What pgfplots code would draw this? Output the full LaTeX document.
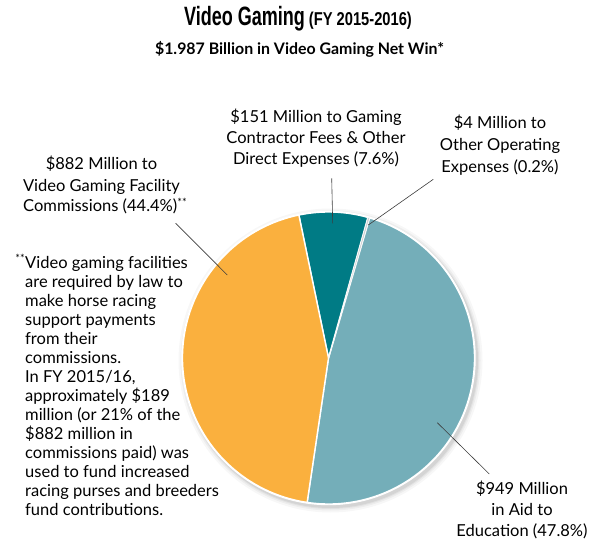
\documentclass[border=0pt]{standalone}
\usepackage{pgfplots}
\pgfplotsset{compat=1.18}
\usepackage{pgfplotstable}
\usepackage{fontspec}
\setmainfont{Lato}
\newfontfamily\titleA[FakeStretch=0.68]{Liberation Sans}
\newfontfamily\titleB[FakeStretch=0.79]{Liberation Sans}
\definecolor{cOrange}{RGB}{250,176,62}
\definecolor{cDark}{RGB}{0,123,133}
\definecolor{cLight}{RGB}{116,174,185}
\definecolor{cGray}{RGB}{205,208,210}
\definecolor{cLine}{RGB}{60,60,60}
\pgfplotstableread{
share value
Education 949
Operating 4
Contractor 151
Facility 882
}\piedata
\newcommand{\lf}{\fontsize{16.5bp}{21bp}\selectfont}
\newcommand{\dstar}{\raisebox{5.5bp}{\fontsize{11bp}{11bp}\selectfont **}}
\begin{document}
\pgfplotstablegetelem{0}{value}\of\piedata\edef\vA{\pgfplotsretval}%
\pgfplotstablegetelem{1}{value}\of\piedata\edef\vB{\pgfplotsretval}%
\pgfplotstablegetelem{2}{value}\of\piedata\edef\vC{\pgfplotsretval}%
\pgfplotstablegetelem{3}{value}\of\piedata\edef\vD{\pgfplotsretval}%
\pgfmathsetmacro\tot{\vA+\vB+\vC+\vD}%
\pgfmathsetmacro\sA{261.6}%
\pgfmathsetmacro\eA{\sA+\vA/\tot*360}%
\pgfmathsetmacro\eB{\eA+\vB/\tot*360}%
\pgfmathsetmacro\eC{\eB+\vC/\tot*360}%
\pgfmathsetmacro\eD{\eC+\vD/\tot*360}%
\begin{tikzpicture}[x=1bp,y=1bp]
\path[use as bounding box] (0,0) rectangle (597,549);
% shadow
\foreach \r/\o in {152/0.03,150/0.04,148.5/0.05,147.5/0.06}{
  \fill[black,opacity=\o] (330.5,188.5) circle[radius=\r bp];
}
\begin{axis}[hide axis, x=1bp, y=1bp, xmin=-150, xmax=150, ymin=-150, ymax=150,
  at={(328.5,191)}, anchor=center, clip=false]
\fill[white] (axis cs:0,0) circle[radius=147.2bp];
\fill[cLight, draw=white, line width=1.4bp, line join=round] (axis cs:0,0) -- (axis cs:{146*cos(\sA)},{146*sin(\sA)}) arc[start angle=\sA, end angle=\eA, radius=146bp] -- cycle;
\fill[cDark, draw=white, line width=1.4bp, line join=round] (axis cs:0,0) -- (axis cs:{146*cos(\eB)},{146*sin(\eB)}) arc[start angle=\eB, end angle=\eC, radius=146bp] -- cycle;
\fill[cOrange, draw=white, line width=1.4bp, line join=round] (axis cs:0,0) -- (axis cs:{146*cos(\eC)},{146*sin(\eC)}) arc[start angle=\eC, end angle=\eD, radius=146bp] -- cycle;
\fill[cGray, draw=white, line width=0.4bp, line join=round] (axis cs:0,0) -- (axis cs:{146*cos(\eA)},{146*sin(\eA)}) arc[start angle=\eA, end angle=\eB, radius=146bp] -- cycle;
\end{axis}
% leader lines
\draw[cLine, line width=0.6bp] (175.7,325.7) -- (227.3,274);
\draw[cLine, line width=0.6bp] (331.7,370.7) -- (332.7,325.7);
\draw[cLine, line width=0.6bp] (433.3,369.7) -- (368.3,324);
\draw[cLine, line width=0.6bp] (437.3,126.3) -- (489.3,75);
% title
\node[anchor=base, inner sep=0] at (298,523) {{\titleA\bfseries\fontsize{26.5bp}{26.5bp}\selectfont Video Gaming}\hspace{4bp}{\titleB\bfseries\fontsize{18.6bp}{18.6bp}\selectfont (FY 2015-2016)}};
\node[anchor=base, inner sep=0] at (299.5,494.5) {\bfseries\fontsize{15.9bp}{17bp}\selectfont \$1.987 Billion in Video Gaming Net Win*};
% labels
\node[anchor=base, inner sep=0] at (101.5,379) {\lf \$882 Million to};
\node[anchor=base, inner sep=0] at (101.5,357.3) {\lf Video Gaming Facility};
\node[anchor=base west, inner sep=0] at (23,337) {\lf Commissions (44.4\%)\dstar};
\node[anchor=base, inner sep=0] at (316,426.5) {\lf \$151 Million to Gaming};
\node[anchor=base, inner sep=0] at (316,405.5) {\lf Contractor Fees \& Other};
\node[anchor=base, inner sep=0] at (316,384.5) {\lf Direct Expenses (7.6\%)};
\node[anchor=base, inner sep=0] at (500,420) {\lf \$4 Million to};
\node[anchor=base, inner sep=0] at (500,398) {\lf Other Operating};
\node[anchor=base, inner sep=0] at (500,376.5) {\lf Expenses (0.2\%)};
\node[anchor=base, inner sep=0] at (522,54.5) {\lf \$949 Million};
\node[anchor=base, inner sep=0] at (522,33.5) {\lf in Aid to};
\node[anchor=base, inner sep=0] at (522,12.8) {\lf Education (47.8\%)};
% footnote
\node[anchor=base east, inner sep=0] at (25,280.7) {\lf\dstar};
\foreach \t [count=\i from 0] in {Video gaming facilities, are required by law to, make horse racing, support payments, from their, commissions., {In FY 2015/16,}, approximately \$189, million (or 21\% of the, \$882 million in, commissions paid) was, used to fund increased, racing purses and breeders, fund contributions.}{
  \node[anchor=base west, inner sep=0] at (25,280.7-19.05*\i) {\lf \t};
}
\end{tikzpicture}
\end{document}
